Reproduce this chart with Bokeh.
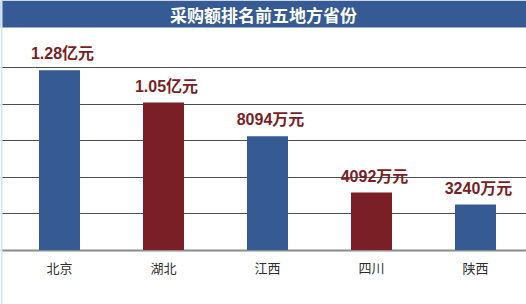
from bokeh.plotting import figure
from bokeh.models import Range1d, Grid, FixedTicker, BoxAnnotation, Label, ColumnDataSource
from bokeh.core.properties import value
from bokeh.embed import file_html
from bokeh.resources import INLINE

# ---- data ----
title_text = "采购额排名前五地方省份"
regions = ["北京", "湖北", "江西", "四川", "陕西"]
amounts = [12800, 10500, 8094, 4092, 3240]          # 万元
amount_labels = ["1.28亿元", "1.05亿元", "8094万元", "4092万元", "3240万元"]

# ---- style / layout ----
W, H = 526, 304
BLUE = "#365a93"
RED = "#7a1f26"
bar_colors = [BLUE if i % 2 == 0 else RED for i in range(len(regions))]
px_per_cat = 104.0
first_center_px = 59.0
baseline_px = 249.5          # from top
grid_px = 36.5
grid_step = 2600.0
title_bar_px = 27.0
grid_left_px, grid_right_px = 17.0, 517.0

upp = grid_step / grid_px
x_start = -first_center_px / px_per_cat
x_end = x_start + W / px_per_cat
y_start = -(H - baseline_px) * upp
y_end = y_start + H * upp

def xpx(px):
    return x_start + px / px_per_cat

idx = list(range(len(regions)))
src = ColumnDataSource(dict(x=idx, top=amounts, lab=amount_labels, reg=regions, color=bar_colors))

p = figure(width=W, height=H, output_backend="svg", toolbar_location=None,
           x_range=Range1d(x_start, x_end), y_range=Range1d(y_start, y_end),
           x_axis_type=None, y_axis_type=None, min_border=0,
           background_fill_color="white", border_fill_color="white")
p.outline_line_color = None

# grid lines
p.add_layout(Grid(dimension=1, ticker=FixedTicker(ticks=[grid_step * k for k in range(1, 6)]),
                  grid_line_color="#4d4d4d", grid_line_width=1,
                  bounds=(xpx(grid_left_px), xpx(grid_right_px))))
p.add_layout(Grid(dimension=1, ticker=FixedTicker(ticks=[0]),
                  grid_line_color="#8a8a8a", grid_line_width=2,
                  bounds=(xpx(grid_left_px), xpx(grid_right_px))))

# bars
p.vbar(x="x", top="top", bottom=0, width=41 / px_per_cat, source=src,
       fill_color="color", line_color=None)

# value labels
p.text(x="x", y="top", text="lab", source=src, x_offset=3, y_offset=-8,
       text_align="center", text_baseline="bottom",
       text_font=value("'Liberation Sans', 'Noto Sans CJK SC'"), text_font_style="bold",
       text_font_size="16px", text_color=RED)

# category labels
p.text(x="x", y=0, text="reg", source=src, y_offset=17,
       text_align="center", text_baseline="middle",
       text_font=value("Noto Sans CJK SC"), text_font_size="13px", text_color="#2e2e2e")

# title bar and left edge strip
p.add_layout(BoxAnnotation(bottom=y_end - title_bar_px * upp, fill_color=BLUE, fill_alpha=1,
                           line_color=None))
p.add_layout(BoxAnnotation(right=xpx(2), fill_color="#cfe8f6",
                           fill_alpha=1, line_color=None))
p.add_layout(Label(x=(x_start + x_end) / 2, y=y_end - 14 * upp, text=title_text,
                   text_align="center", text_baseline="middle", text_color="white",
                   text_font="Noto Sans CJK SC", text_font_style="bold", text_font_size="17px"))

open("out.html", "w").write(file_html(p, INLINE))
